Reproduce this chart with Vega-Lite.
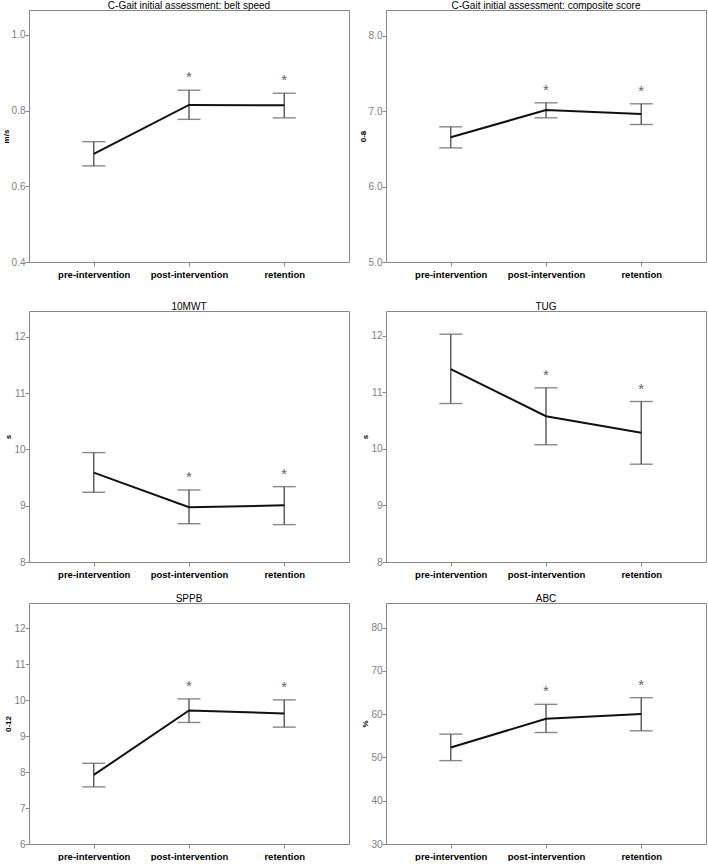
{
"$schema": "https://vega.github.io/schema/vega-lite/v6.json",
"padding": {"left": 1, "top": 0, "right": 0, "bottom": 0},
"background": "white",
"config": {
  "font": "Liberation Sans",
  "view": {"stroke": "#888", "strokeWidth": 1},
  "axis": {"grid": false, "domain": false, "tickColor": "#888", "tickSize": 4},
  "axisX": {"labelAngle": 0, "labelColor": "#000", "labelFontWeight": "bold", "labelFontSize": 9.5, "labelPadding": 3},
  "axisY": {"labelColor": "#808080", "labelFontSize": 10, "titleFontSize": 8, "titleFontWeight": "bold", "titleColor": "#000", "titlePadding": 1, "labelPadding": 0},
  "title": {"fontSize": 10, "fontWeight": "normal", "color": "#000", "offset": -1},
  "rule": {"color": "#555", "strokeWidth": 1.4},
  "tick": {"color": "#555", "thickness": 1.4},
  "line": {"color": "#111", "strokeWidth": 2},
  "text": {"color": "#666", "fontSize": 15, "dy": -13, "baseline": "middle"}
},
"datasets": {
  "d": [
    {"panel": "belt", "time": "pre-intervention", "mean": 0.686, "lo": 0.654, "hi": 0.718, "sig": ""},
    {"panel": "belt", "time": "post-intervention", "mean": 0.815, "lo": 0.777, "hi": 0.854, "sig": "*"},
    {"panel": "belt", "time": "retention", "mean": 0.814, "lo": 0.781, "hi": 0.846, "sig": "*"},
    {"panel": "comp", "time": "pre-intervention", "mean": 6.657, "lo": 6.515, "hi": 6.794, "sig": ""},
    {"panel": "comp", "time": "post-intervention", "mean": 7.016, "lo": 6.914, "hi": 7.113, "sig": "*"},
    {"panel": "comp", "time": "retention", "mean": 6.963, "lo": 6.825, "hi": 7.100, "sig": "*"},
    {"panel": "mwt", "time": "pre-intervention", "mean": 9.588, "lo": 9.239, "hi": 9.944, "sig": ""},
    {"panel": "mwt", "time": "post-intervention", "mean": 8.972, "lo": 8.681, "hi": 9.280, "sig": "*"},
    {"panel": "mwt", "time": "retention", "mean": 9.007, "lo": 8.664, "hi": 9.339, "sig": "*"},
    {"panel": "tug", "time": "pre-intervention", "mean": 11.413, "lo": 10.803, "hi": 12.03, "sig": ""},
    {"panel": "tug", "time": "post-intervention", "mean": 10.578, "lo": 10.074, "hi": 11.081, "sig": "*"},
    {"panel": "tug", "time": "retention", "mean": 10.287, "lo": 9.730, "hi": 10.839, "sig": "*"},
    {"panel": "sppb", "time": "pre-intervention", "mean": 7.92, "lo": 7.588, "hi": 8.243, "sig": ""},
    {"panel": "sppb", "time": "post-intervention", "mean": 9.711, "lo": 9.379, "hi": 10.034, "sig": "*"},
    {"panel": "sppb", "time": "retention", "mean": 9.628, "lo": 9.249, "hi": 10.006, "sig": "*"},
    {"panel": "abc", "time": "pre-intervention", "mean": 52.29, "lo": 49.27, "hi": 55.39, "sig": ""},
    {"panel": "abc", "time": "post-intervention", "mean": 58.95, "lo": 55.77, "hi": 62.28, "sig": "*"},
    {"panel": "abc", "time": "retention", "mean": 60.03, "lo": 56.16, "hi": 63.82, "sig": "*"}
  ]
},
"data": {"name": "d"},
"spacing": 22,
"vconcat": [
  {"hconcat": [
    {"width": 320, "height": 252, "title": "C-Gait initial assessment: belt speed",
     "transform": [{"filter": "datum.panel == 'belt'"}],
     "encoding": {"x": {"field": "time", "type": "nominal", "sort": ["pre-intervention","post-intervention","retention"], "scale": {"type": "point", "padding": 0.68}, "axis": {"title": null}}},
     "layer": [
       {"mark": "rule", "encoding": {"y": {"field": "lo", "type": "quantitative", "scale": {"domain": [0.4, 1.066], "nice": false, "zero": false}, "axis": {"title": "m/s", "values": [0.4, 0.6, 0.8, 1.0], "format": ".1f"}}, "y2": {"field": "hi"}}},
       {"mark": {"type": "tick", "size": 23}, "encoding": {"y": {"field": "lo", "type": "quantitative"}}},
       {"mark": {"type": "tick", "size": 23}, "encoding": {"y": {"field": "hi", "type": "quantitative"}}},
       {"mark": "line", "encoding": {"y": {"field": "mean", "type": "quantitative"}}},
       {"mark": "text", "encoding": {"y": {"field": "hi", "type": "quantitative"}, "text": {"field": "sig"}}}
     ]},
    {"width": 320, "height": 252, "title": "C-Gait initial assessment: composite score",
     "transform": [{"filter": "datum.panel == 'comp'"}],
     "encoding": {"x": {"field": "time", "type": "nominal", "sort": ["pre-intervention","post-intervention","retention"], "scale": {"type": "point", "padding": 0.68}, "axis": {"title": null}}},
     "layer": [
       {"mark": "rule", "encoding": {"y": {"field": "lo", "type": "quantitative", "scale": {"domain": [5, 8.345], "nice": false, "zero": false}, "axis": {"title": "0-8", "values": [5, 6, 7, 8], "format": ".1f"}}, "y2": {"field": "hi"}}},
       {"mark": {"type": "tick", "size": 23}, "encoding": {"y": {"field": "lo", "type": "quantitative"}}},
       {"mark": {"type": "tick", "size": 23}, "encoding": {"y": {"field": "hi", "type": "quantitative"}}},
       {"mark": "line", "encoding": {"y": {"field": "mean", "type": "quantitative"}}},
       {"mark": "text", "encoding": {"y": {"field": "hi", "type": "quantitative"}, "text": {"field": "sig"}}}
     ]}
  ], "spacing": 37, "bounds": "flush"},
  {"vconcat": [
    {"hconcat": [
      {"width": 320, "height": 251, "title": "10MWT",
       "transform": [{"filter": "datum.panel == 'mwt'"}],
       "encoding": {"x": {"field": "time", "type": "nominal", "sort": ["pre-intervention","post-intervention","retention"], "scale": {"type": "point", "padding": 0.68}, "axis": {"title": null}}},
       "layer": [
         {"mark": "rule", "encoding": {"y": {"field": "lo", "type": "quantitative", "scale": {"domain": [8, 12.46], "nice": false, "zero": false}, "axis": {"title": "s", "values": [8, 9, 10, 11, 12], "format": "d"}}, "y2": {"field": "hi"}}},
         {"mark": {"type": "tick", "size": 23}, "encoding": {"y": {"field": "lo", "type": "quantitative"}}},
         {"mark": {"type": "tick", "size": 23}, "encoding": {"y": {"field": "hi", "type": "quantitative"}}},
         {"mark": "line", "encoding": {"y": {"field": "mean", "type": "quantitative"}}},
         {"mark": "text", "encoding": {"y": {"field": "hi", "type": "quantitative"}, "text": {"field": "sig"}}}
       ]},
      {"width": 320, "height": 251, "title": "TUG",
       "transform": [{"filter": "datum.panel == 'tug'"}],
       "encoding": {"x": {"field": "time", "type": "nominal", "sort": ["pre-intervention","post-intervention","retention"], "scale": {"type": "point", "padding": 0.68}, "axis": {"title": null}}},
       "layer": [
         {"mark": "rule", "encoding": {"y": {"field": "lo", "type": "quantitative", "scale": {"domain": [8, 12.44], "nice": false, "zero": false}, "axis": {"title": "s", "values": [8, 9, 10, 11, 12], "format": "d"}}, "y2": {"field": "hi"}}},
         {"mark": {"type": "tick", "size": 23}, "encoding": {"y": {"field": "lo", "type": "quantitative"}}},
         {"mark": {"type": "tick", "size": 23}, "encoding": {"y": {"field": "hi", "type": "quantitative"}}},
         {"mark": "line", "encoding": {"y": {"field": "mean", "type": "quantitative"}}},
         {"mark": "text", "encoding": {"y": {"field": "hi", "type": "quantitative"}, "text": {"field": "sig"}}}
       ]}
    ], "spacing": 37, "bounds": "flush"},
    {"hconcat": [
      {"width": 320, "height": 241, "title": "SPPB",
       "transform": [{"filter": "datum.panel == 'sppb'"}],
       "encoding": {"x": {"field": "time", "type": "nominal", "sort": ["pre-intervention","post-intervention","retention"], "scale": {"type": "point", "padding": 0.68}, "axis": {"title": null}}},
       "layer": [
         {"mark": "rule", "encoding": {"y": {"field": "lo", "type": "quantitative", "scale": {"domain": [6, 12.7], "nice": false, "zero": false}, "axis": {"title": "0-12", "values": [6, 7, 8, 9, 10, 11, 12], "format": "d"}}, "y2": {"field": "hi"}}},
         {"mark": {"type": "tick", "size": 23}, "encoding": {"y": {"field": "lo", "type": "quantitative"}}},
         {"mark": {"type": "tick", "size": 23}, "encoding": {"y": {"field": "hi", "type": "quantitative"}}},
         {"mark": "line", "encoding": {"y": {"field": "mean", "type": "quantitative"}}},
         {"mark": "text", "encoding": {"y": {"field": "hi", "type": "quantitative"}, "text": {"field": "sig"}}}
       ]},
      {"width": 320, "height": 241, "title": "ABC",
       "transform": [{"filter": "datum.panel == 'abc'"}],
       "encoding": {"x": {"field": "time", "type": "nominal", "sort": ["pre-intervention","post-intervention","retention"], "scale": {"type": "point", "padding": 0.68}, "axis": {"title": null}}},
       "layer": [
         {"mark": "rule", "encoding": {"y": {"field": "lo", "type": "quantitative", "scale": {"domain": [30, 85.7], "nice": false, "zero": false}, "axis": {"title": "%", "values": [30, 40, 50, 60, 70, 80], "format": "d"}}, "y2": {"field": "hi"}}},
         {"mark": {"type": "tick", "size": 23}, "encoding": {"y": {"field": "lo", "type": "quantitative"}}},
         {"mark": {"type": "tick", "size": 23}, "encoding": {"y": {"field": "hi", "type": "quantitative"}}},
         {"mark": "line", "encoding": {"y": {"field": "mean", "type": "quantitative"}}},
         {"mark": "text", "encoding": {"y": {"field": "hi", "type": "quantitative"}, "text": {"field": "sig"}}}
       ]}
    ], "spacing": 37, "bounds": "flush"}
  ], "spacing": 14}
]
}
